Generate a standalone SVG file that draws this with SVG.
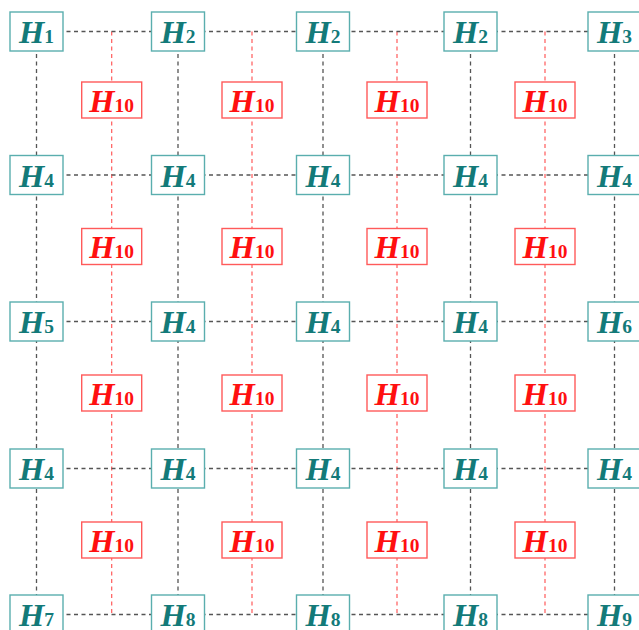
<svg xmlns="http://www.w3.org/2000/svg" width="639" height="630" viewBox="0 0 639 630">
<style>
.bg{fill:#ffffff}
.lk{stroke:#555555;stroke-width:1.3;stroke-dasharray:4 3.5;fill:none}
.lr{stroke:#ff5a5a;stroke-width:1.2;stroke-dasharray:4 3.5;fill:none}
.tb{fill:#ffffff;stroke:#5aaeae;stroke-width:1.4}
.rb{fill:#ffffff;stroke:#ff5a5a;stroke-width:1.4}
.tt{fill:#137a79;font-family:"Liberation Serif","Times New Roman",serif;font-weight:bold;text-anchor:middle}
.rt{fill:#ff1010;font-family:"Liberation Serif","Times New Roman",serif;font-weight:bold;text-anchor:middle}
.h{font-style:italic;font-size:32.5px}
.s{font-style:normal;font-size:19.5px}
</style>
<rect class="bg" x="0" y="0" width="639" height="630"/>
<g id="connectors">
<path class="lr" d="M111.7 31.5V614.5M252 31.5V614.5M397 31.5V614.5M545 31.5V614.5"/>
<path class="lk" d="M36.5 31.5H639M36.5 175H639M36.5 321.5H639M36.5 468.5H639M36.5 614.5H639"/>
<path class="lk" d="M36.5 31.5V630M178 31.5V630M323 31.5V630M470.5 31.5V630M614.5 31.5V630"/>
</g>
<g id="n11"><rect class="tb" x="10" y="12" width="53" height="39"/><text class="tt" x="36.5" y="43"><tspan class="h">H</tspan><tspan class="s">1</tspan></text></g>
<g id="n12"><rect class="tb" x="151.5" y="12" width="53" height="39"/><text class="tt" x="178" y="43"><tspan class="h">H</tspan><tspan class="s">2</tspan></text></g>
<g id="n13"><rect class="tb" x="296.5" y="12" width="53" height="39"/><text class="tt" x="323" y="43"><tspan class="h">H</tspan><tspan class="s">2</tspan></text></g>
<g id="n14"><rect class="tb" x="444" y="12" width="53" height="39"/><text class="tt" x="470.5" y="43"><tspan class="h">H</tspan><tspan class="s">2</tspan></text></g>
<g id="n15"><rect class="tb" x="588" y="12" width="53" height="39"/><text class="tt" x="614.5" y="43"><tspan class="h">H</tspan><tspan class="s">3</tspan></text></g>
<g id="n21"><rect class="tb" x="10" y="155.5" width="53" height="39"/><text class="tt" x="36.5" y="186.5"><tspan class="h">H</tspan><tspan class="s">4</tspan></text></g>
<g id="n22"><rect class="tb" x="151.5" y="155.5" width="53" height="39"/><text class="tt" x="178" y="186.5"><tspan class="h">H</tspan><tspan class="s">4</tspan></text></g>
<g id="n23"><rect class="tb" x="296.5" y="155.5" width="53" height="39"/><text class="tt" x="323" y="186.5"><tspan class="h">H</tspan><tspan class="s">4</tspan></text></g>
<g id="n24"><rect class="tb" x="444" y="155.5" width="53" height="39"/><text class="tt" x="470.5" y="186.5"><tspan class="h">H</tspan><tspan class="s">4</tspan></text></g>
<g id="n25"><rect class="tb" x="588" y="155.5" width="53" height="39"/><text class="tt" x="614.5" y="186.5"><tspan class="h">H</tspan><tspan class="s">4</tspan></text></g>
<g id="n31"><rect class="tb" x="10" y="302" width="53" height="39"/><text class="tt" x="36.5" y="333"><tspan class="h">H</tspan><tspan class="s">5</tspan></text></g>
<g id="n32"><rect class="tb" x="151.5" y="302" width="53" height="39"/><text class="tt" x="178" y="333"><tspan class="h">H</tspan><tspan class="s">4</tspan></text></g>
<g id="n33"><rect class="tb" x="296.5" y="302" width="53" height="39"/><text class="tt" x="323" y="333"><tspan class="h">H</tspan><tspan class="s">4</tspan></text></g>
<g id="n34"><rect class="tb" x="444" y="302" width="53" height="39"/><text class="tt" x="470.5" y="333"><tspan class="h">H</tspan><tspan class="s">4</tspan></text></g>
<g id="n35"><rect class="tb" x="588" y="302" width="53" height="39"/><text class="tt" x="614.5" y="333"><tspan class="h">H</tspan><tspan class="s">6</tspan></text></g>
<g id="n41"><rect class="tb" x="10" y="449" width="53" height="39"/><text class="tt" x="36.5" y="480"><tspan class="h">H</tspan><tspan class="s">4</tspan></text></g>
<g id="n42"><rect class="tb" x="151.5" y="449" width="53" height="39"/><text class="tt" x="178" y="480"><tspan class="h">H</tspan><tspan class="s">4</tspan></text></g>
<g id="n43"><rect class="tb" x="296.5" y="449" width="53" height="39"/><text class="tt" x="323" y="480"><tspan class="h">H</tspan><tspan class="s">4</tspan></text></g>
<g id="n44"><rect class="tb" x="444" y="449" width="53" height="39"/><text class="tt" x="470.5" y="480"><tspan class="h">H</tspan><tspan class="s">4</tspan></text></g>
<g id="n45"><rect class="tb" x="588" y="449" width="53" height="39"/><text class="tt" x="614.5" y="480"><tspan class="h">H</tspan><tspan class="s">4</tspan></text></g>
<g id="n51"><rect class="tb" x="10" y="595" width="53" height="39"/><text class="tt" x="36.5" y="626"><tspan class="h">H</tspan><tspan class="s">7</tspan></text></g>
<g id="n52"><rect class="tb" x="151.5" y="595" width="53" height="39"/><text class="tt" x="178" y="626"><tspan class="h">H</tspan><tspan class="s">8</tspan></text></g>
<g id="n53"><rect class="tb" x="296.5" y="595" width="53" height="39"/><text class="tt" x="323" y="626"><tspan class="h">H</tspan><tspan class="s">8</tspan></text></g>
<g id="n54"><rect class="tb" x="444" y="595" width="53" height="39"/><text class="tt" x="470.5" y="626"><tspan class="h">H</tspan><tspan class="s">8</tspan></text></g>
<g id="n55"><rect class="tb" x="588" y="595" width="53" height="39"/><text class="tt" x="614.5" y="626"><tspan class="h">H</tspan><tspan class="s">9</tspan></text></g>
<g id="r11"><rect class="rb" x="81.7" y="82" width="60" height="36"/><text class="rt" x="111.7" y="111.5"><tspan class="h">H</tspan><tspan class="s">10</tspan></text></g>
<g id="r12"><rect class="rb" x="222" y="82" width="60" height="36"/><text class="rt" x="252" y="111.5"><tspan class="h">H</tspan><tspan class="s">10</tspan></text></g>
<g id="r13"><rect class="rb" x="367" y="82" width="60" height="36"/><text class="rt" x="397" y="111.5"><tspan class="h">H</tspan><tspan class="s">10</tspan></text></g>
<g id="r14"><rect class="rb" x="515" y="82" width="60" height="36"/><text class="rt" x="545" y="111.5"><tspan class="h">H</tspan><tspan class="s">10</tspan></text></g>
<g id="r21"><rect class="rb" x="81.7" y="228.5" width="60" height="36"/><text class="rt" x="111.7" y="258"><tspan class="h">H</tspan><tspan class="s">10</tspan></text></g>
<g id="r22"><rect class="rb" x="222" y="228.5" width="60" height="36"/><text class="rt" x="252" y="258"><tspan class="h">H</tspan><tspan class="s">10</tspan></text></g>
<g id="r23"><rect class="rb" x="367" y="228.5" width="60" height="36"/><text class="rt" x="397" y="258"><tspan class="h">H</tspan><tspan class="s">10</tspan></text></g>
<g id="r24"><rect class="rb" x="515" y="228.5" width="60" height="36"/><text class="rt" x="545" y="258"><tspan class="h">H</tspan><tspan class="s">10</tspan></text></g>
<g id="r31"><rect class="rb" x="81.7" y="375" width="60" height="36"/><text class="rt" x="111.7" y="404.5"><tspan class="h">H</tspan><tspan class="s">10</tspan></text></g>
<g id="r32"><rect class="rb" x="222" y="375" width="60" height="36"/><text class="rt" x="252" y="404.5"><tspan class="h">H</tspan><tspan class="s">10</tspan></text></g>
<g id="r33"><rect class="rb" x="367" y="375" width="60" height="36"/><text class="rt" x="397" y="404.5"><tspan class="h">H</tspan><tspan class="s">10</tspan></text></g>
<g id="r34"><rect class="rb" x="515" y="375" width="60" height="36"/><text class="rt" x="545" y="404.5"><tspan class="h">H</tspan><tspan class="s">10</tspan></text></g>
<g id="r41"><rect class="rb" x="81.7" y="522" width="60" height="36"/><text class="rt" x="111.7" y="551.5"><tspan class="h">H</tspan><tspan class="s">10</tspan></text></g>
<g id="r42"><rect class="rb" x="222" y="522" width="60" height="36"/><text class="rt" x="252" y="551.5"><tspan class="h">H</tspan><tspan class="s">10</tspan></text></g>
<g id="r43"><rect class="rb" x="367" y="522" width="60" height="36"/><text class="rt" x="397" y="551.5"><tspan class="h">H</tspan><tspan class="s">10</tspan></text></g>
<g id="r44"><rect class="rb" x="515" y="522" width="60" height="36"/><text class="rt" x="545" y="551.5"><tspan class="h">H</tspan><tspan class="s">10</tspan></text></g>
</svg>
